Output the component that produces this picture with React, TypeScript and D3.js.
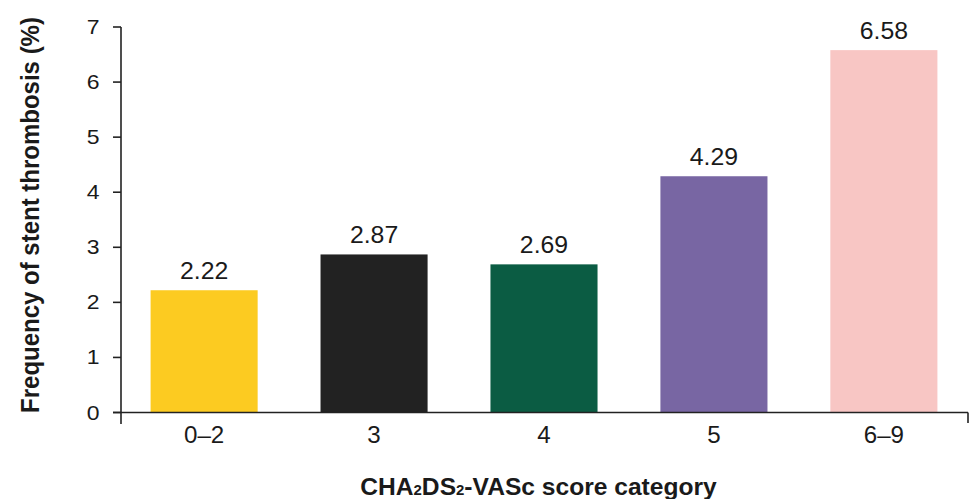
import React from "react";
import * as d3 from "d3";

const categories = ["0–2", "3", "4", "5", "6–9"];
const values = [2.22, 2.87, 2.69, 4.29, 6.58];
const valueLabels = ["2.22", "2.87", "2.69", "4.29", "6.58"];
const colors = ["#FCCB21", "#222222", "#0B5C43", "#7866A3", "#F8C6C4"];
const yTicks = [0, 1, 2, 3, 4, 5, 6, 7];

const W = 972;
const H = 499;
const FONT = "'Liberation Sans', Arial, sans-serif";

export default function App() {
  const x = d3
    .scaleBand<string>()
    .domain(categories)
    .range([120, 968])
    .paddingInner(0.37)
    .paddingOuter(0.18);
  const y = d3.scaleLinear().domain([0, 7]).range([412.5, 27]);

  const axisColor = "#222";

  return (
    <svg
      width={W}
      height={H}
      style={{ position: "absolute", left: 0, top: 0, background: "#fff" }}
    >
      {categories.map((c, i) => (
        <rect
          key={c}
          x={x(c)}
          y={y(values[i])}
          width={x.bandwidth()}
          height={y(0) - y(values[i])}
          fill={colors[i]}
        />
      ))}
      {/* value labels */}
      {categories.map((c, i) => (
        <g
          key={"v" + c}
          transform={`translate(${(x(c) as number) + x.bandwidth() / 2},${
            y(values[i]) - 11
          }) scale(1.08,1)`}
        >
          <text
            textAnchor="middle"
            fontFamily={FONT}
            fontSize={23}
            fill="#1a1a1a"
          >
            {valueLabels[i]}
          </text>
        </g>
      ))}
      {/* y axis */}
      <line
        x1={121}
        x2={121}
        y1={y(7)}
        y2={424}
        stroke={axisColor}
        strokeWidth={1.6}
      />
      {yTicks.map((t) => (
        <g key={"yt" + t}>
          <line
            x1={113}
            x2={121}
            y1={y(t)}
            y2={y(t)}
            stroke={axisColor}
            strokeWidth={1.6}
          />
          <g transform={`translate(99.5,${y(t) + 7}) scale(1.15,1)`}>
            <text
              textAnchor="end"
              fontFamily={FONT}
              fontSize={20}
              fill="#1a1a1a"
            >
              {t}
            </text>
          </g>
        </g>
      ))}
      {/* x axis */}
      <line
        x1={113}
        x2={968}
        y1={y(0)}
        y2={y(0)}
        stroke={axisColor}
        strokeWidth={1.6}
      />
      <line
        x1={968}
        x2={968}
        y1={y(0)}
        y2={423}
        stroke={axisColor}
        strokeWidth={1.6}
      />
      {categories.map((c) => (
        <g
          key={"xt" + c}
          transform={`translate(${(x(c) as number) + x.bandwidth() / 2},443) scale(1.05,1)`}
        >
          <text
            textAnchor="middle"
            fontFamily={FONT}
            fontSize={23}
            fill="#1a1a1a"
          >
            {c}
          </text>
        </g>
      ))}
      {/* y title */}
      <g transform="translate(39,215) rotate(-90) scale(1,1.08)">
        <text
          textAnchor="middle"
          fontFamily={FONT}
          fontSize={24}
          fontWeight="bold"
          fill="#1a1a1a"
        >
          Frequency of stent thrombosis (%)
        </text>
      </g>
      {/* x title */}
      <g transform="translate(538.5,495) scale(1.07,1)">
        <text
          textAnchor="middle"
          fontFamily={FONT}
          fontSize={23}
          fontWeight="bold"
          fill="#1a1a1a"
        >
          CHA
          <tspan fontSize={14}>2</tspan>
          DS
          <tspan fontSize={14}>2</tspan>
          -VASc score category
        </text>
      </g>
    </svg>
  );
}
